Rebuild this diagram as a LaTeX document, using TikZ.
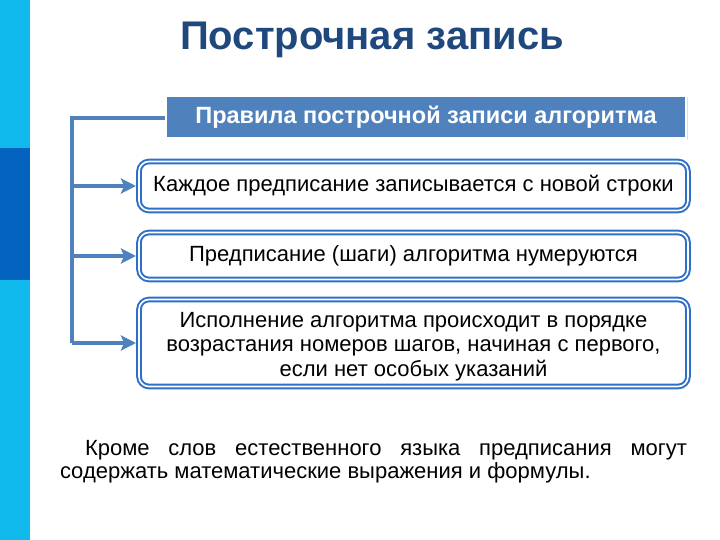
\documentclass[tikz,border=0pt]{standalone}
\usepackage{fontspec}
\setmainfont{Liberation Sans}
\usetikzlibrary{arrows.meta,shadows}
\definecolor{stripecyan}{RGB}{16,185,236}
\definecolor{stripedark}{RGB}{5,99,192}
\definecolor{titleblue}{RGB}{31,73,125}
\definecolor{steel}{RGB}{79,129,189}
\definecolor{framblue}{RGB}{46,112,200}
\begin{document}
\begin{tikzpicture}[x=1pt,y=-1pt,
    rulebox/.style={draw=framblue, double=white, double distance=1.6pt, line width=2pt,
      rounded corners=10pt, fill=white, minimum width=549pt, align=center,
      font=\fontsize{22}{24.5}\selectfont},
    link/.style={steel, line width=3.6pt},
    arr/.style={link, -{Stealth[length=15pt,width=15pt,inset=3pt]}, shorten >=2pt}]
  \useasboundingbox (0,0) rectangle (720,540);
  % side stripe
  \fill[stripecyan] (0,0) rectangle (30,148);
  \fill[stripedark] (0,148) rectangle (30,280);
  \fill[stripecyan] (0,280) rectangle (30,540);
  \node[text=titleblue, font=\fontsize{40}{44}\selectfont\bfseries] (title) at (372,40) {Построчная запись};
  \node[fill=steel, draw=white, line width=2.5pt, minimum width=520pt, minimum height=43pt,
    text=white, font=\fontsize{23.5}{26}\selectfont\bfseries,
    drop shadow={opacity=0.25, shadow xshift=1.5pt, shadow yshift=-1.5pt}] (rules) at (426,117) {Правила построчной записи алгоритма};
  \node[rulebox, minimum height=49pt] (step1) at (413.5,186) {Каждое предписание записывается с новой строки};
  \node[rulebox, minimum height=47pt] (step2) at (413.5,256) {Предписание (шаги) алгоритма нумеруются};
  \node[rulebox, minimum height=87pt] (step3) at (413.5,343) {\rule{0pt}{22pt}Исполнение алгоритма происходит в порядке\\возрастания номеров шагов, начиная с первого,\\если нет особых указаний};
  \coordinate (corner) at (72,118);
  \draw[link] (rules.west |- corner) -- (corner) -- (corner |- step3.west);
  \draw[arr] (corner |- step1.west) -- (step1.west);
  \draw[arr] (corner |- step2.west) -- (step2.west);
  \draw[arr] (corner |- step3.west) -- (step3.west);
  \node[text width=627pt, align=justify, inner sep=0pt, font=\fontsize{22}{23.5}\selectfont] (note) at (373.5,461.5)
    {\hspace*{25pt}Кроме слов естественного языка предписания могут содержать математические выражения и формулы.};
\end{tikzpicture}
\end{document}
